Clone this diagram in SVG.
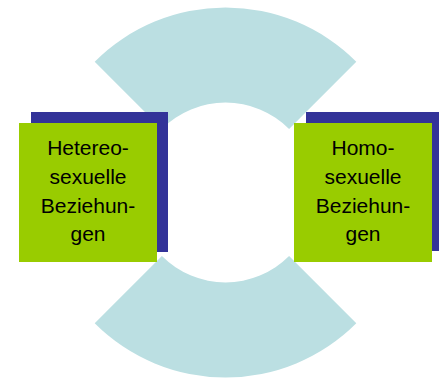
<svg xmlns="http://www.w3.org/2000/svg" width="439" height="378" viewBox="0 0 439 378">
<style>
.arc{fill:#bbdfe2}
.shadow{fill:#333399}
.box{fill:#99cc00}
.lbl{font-family:"Liberation Sans",Arial,sans-serif;font-size:21px;fill:#000;text-anchor:middle}
</style>
<rect width="439" height="378" fill="#fff"/>
<g id="ring">
<path class="arc" d="M94.7,61.7 A185,185 0 0 1 356.3,61.7 L289.1,128.9 A90,90 0 0 0 161.9,128.9 Z"/>
<path class="arc" d="M94.7,323.3 A185,185 0 0 0 356.3,323.3 L289.1,256.1 A90,90 0 0 1 161.9,256.1 Z"/>
</g>
<g id="hetero">
<rect class="shadow" x="31" y="112" width="137" height="140"/>
<rect class="box" x="19" y="123" width="138" height="139"/>
<text class="lbl"><tspan x="88" y="155">Hetereo-</tspan><tspan x="88" y="184">sexuelle</tspan><tspan x="88" y="213">Beziehun-</tspan><tspan x="88" y="241">gen</tspan></text>
</g>
<g id="homo">
<rect class="shadow" x="306" y="112" width="133" height="139"/>
<rect class="box" x="294" y="123" width="138" height="139"/>
<text class="lbl"><tspan x="363" y="155">Homo-</tspan><tspan x="363" y="184">sexuelle</tspan><tspan x="363" y="213">Beziehun-</tspan><tspan x="363" y="241">gen</tspan></text>
</g>
<g id="connectors"/>
</svg>
